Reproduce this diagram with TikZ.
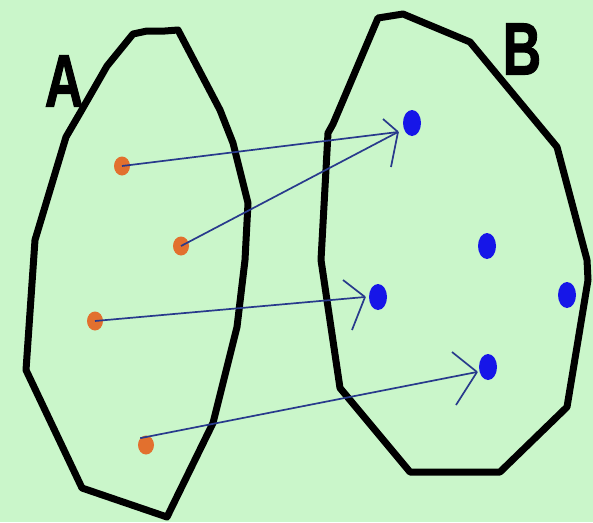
\documentclass[tikz,border=0pt]{standalone}
\usepackage{fontspec}
\setmainfont{Liberation Sans}
\newfontfamily\labelfont[BoldFeatures={FakeBold=1.6}]{Liberation Sans}
\usetikzlibrary{shapes.geometric}
\definecolor{bgcol}{RGB}{202,246,202}
\definecolor{dotorange}{RGB}{226,112,46}
\definecolor{dotblue}{RGB}{22,22,232}
\definecolor{arrcol}{RGB}{40,58,140}
\tikzset{
  setline/.style={line width=7pt, line join=round, black},
  odot/.style={ellipse, fill=dotorange, minimum width=16pt, minimum height=19pt, inner sep=0pt},
  bdot/.style={ellipse, fill=dotblue, minimum width=18pt, minimum height=26pt, inner sep=0pt},
  mapline/.style={arrcol, line width=1.7pt},
  setlabel/.style={font=\labelfont\fontsize{74}{74}\selectfont\bfseries, xscale=0.72, inner sep=0pt}
}
\begin{document}
\begin{tikzpicture}[x=1pt,y=-1pt]
\fill[bgcol] (0,0) rectangle (593,522);
\useasboundingbox (0,0) rectangle (593,522);
% set A
\draw[setline] (133,34) -- (147,31) -- (165,31) -- (178,30) -- (220,110) -- (233,143) -- (248,203) -- (245,260) -- (237,327) -- (213,423) -- (167,517) -- (82,488) -- (26,370) -- (35,240) -- (66,137) -- (80,113) -- (107,66) -- cycle;
% set B
\draw[setline] (378,18) -- (403,14) -- (470,42) -- (557,147) -- (587,260) -- (588,280) -- (567,407) -- (500,472) -- (458,472) -- (410,472) -- (340,388) -- (321,260) -- (328,133) -- (333,124) -- cycle;
% labels
\node[setlabel] (la) at (64,81) {A};
\node[setlabel] (lb) at (522,49) {B};
% dots
\node[odot] (o1) at (122,166) {};
\node[odot] (o2) at (181,246) {};
\node[odot] (o3) at (95,321) {};
\node[odot] (o4) at (146,445) {};
\node[bdot] (b1) at (412,123) {};
\node[bdot] (b2) at (487,246) {};
\node[bdot] (b3) at (378,297) {};
\node[bdot] (b4) at (567,295) {};
\node[bdot] (b5) at (488,367) {};
% arrow tips
\coordinate (t1) at (398,132);
\coordinate (t3) at (365,297);
\coordinate (t5) at (477,372);
% mapping lines
\draw[mapline] (o1.center) -- (t1);
\draw[mapline] (o2.center) -- (t1);
\draw[mapline] (o3.center) -- (t3);
\draw[mapline] (o4.north west) -- (t5);
% open arrowheads
\draw[mapline] (t1) -- ++(-15,-13);
\draw[mapline] (t1) -- ++(-7,35);
\draw[mapline] (t3) -- ++(-22,-17);
\draw[mapline] (t3) -- ++(-13,33);
\draw[mapline] (t5) -- ++(-25,-20);
\draw[mapline] (t5) -- ++(-21,33);
\end{tikzpicture}
\end{document}
